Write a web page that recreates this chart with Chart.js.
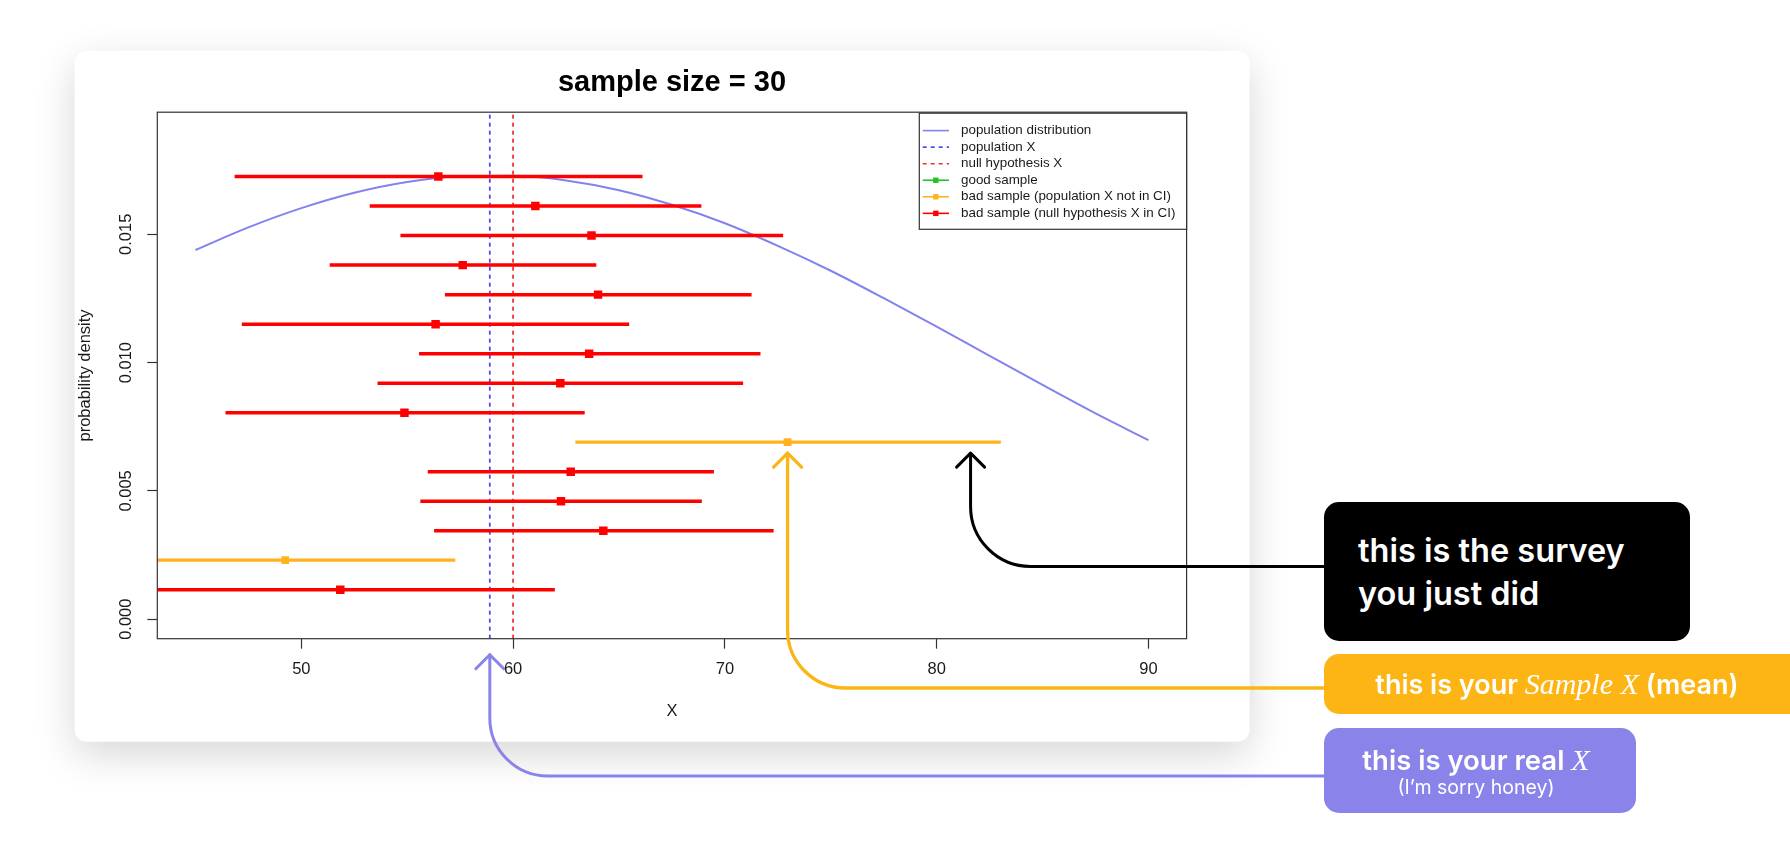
<!DOCTYPE html>
<html>
<head>
<meta charset="utf-8">
<script src="https://cdn.jsdelivr.net/npm/chart.js@4.4.1/dist/chart.umd.min.js"></script>
<style>
html,body{margin:0;padding:0;background:#fff;}
#wrap{position:relative;width:1790px;height:841px;overflow:hidden;background:#fff;}
#c{position:absolute;left:0;top:0;}
.callout{position:absolute;box-sizing:border-box;border-radius:15px;color:#fff;font-family:Inter,"Noto Sans",sans-serif;font-weight:600;white-space:nowrap;}
.serif{font-family:"Liberation Serif","DejaVu Serif",serif;font-style:italic;font-weight:400;line-height:1;}
</style>
</head>
<body>
<div id="wrap">
<canvas id="c" width="1790" height="841"></canvas>
<div class="callout" style="left:1324px;top:502px;width:366px;height:139px;background:#000;">
  <div style="position:absolute;left:34px;top:27px;font-size:32.5px;line-height:43px;">this is the survey<br>you just did</div>
</div>
<div class="callout" style="left:1324px;top:654px;width:466px;height:60px;background:#FDB515;border-radius:15px 0 0 15px;">
  <div style="position:absolute;left:0;right:0;top:15px;text-align:center;font-size:27px;line-height:32px;">this is your <span class="serif" style="font-size:30px;">Sample X</span> (mean)</div>
</div>
<div class="callout" style="left:1324px;top:728px;width:312px;height:85px;background:#8A84EA;">
  <div style="position:absolute;left:0;right:8px;top:16px;text-align:center;font-size:27.5px;line-height:32px;">this is your real <span class="serif" style="font-size:30px;">X</span></div>
  <div style="position:absolute;left:0;right:8px;top:48px;text-align:center;font-size:19.5px;line-height:22px;font-weight:400;">(I’m sorry honey)</div>
</div>
</div>
<script>
// ---- data ----
const titleText = 'sample size = 30';
const xTitle = 'X';
const yTitle = 'probability density';
const xLimits = [43.2, 91.8];
const yLimits = [-0.00076, 0.01976];
const xTicks = [50, 60, 70, 80, 90];
const yTicks = [0, 0.005, 0.010, 0.015];

const densityX = [45, 47.5, 50, 52.5, 55, 57.5, 60, 62.5, 65, 67.5, 70, 72.5, 75, 77.5, 80, 82.5, 85, 87.5, 90];
const densityY = [0.01439, 0.01527, 0.01602, 0.01662, 0.01704, 0.01726, 0.01728, 0.01710, 0.01672, 0.01615,
                  0.01543, 0.01455, 0.01358, 0.01251, 0.01140, 0.01026, 0.00913, 0.00802, 0.00698];

const populationMean = 58.9;
const nullHypothesisMean = 60;

// samples from bottom to top
const sampleY    = [0.00115, 0.0023, 0.00345, 0.0046, 0.00575, 0.0069, 0.00805, 0.0092, 0.01035, 0.0115, 0.01265, 0.0138, 0.01495, 0.0161, 0.01725];
const sampleLow  = [41.71, 41.21, 56.27, 55.62, 55.97, 62.94, 46.42, 53.60, 55.56, 47.19, 56.78, 51.34, 54.68, 53.23, 46.85];
const sampleMean = [51.84, 49.24, 64.26, 62.26, 62.72, 72.96, 54.87, 62.23, 63.59, 56.34, 64.01, 57.62, 63.70, 61.05, 56.47];
const sampleHigh = [61.97, 57.27, 72.30, 68.91, 69.48, 83.03, 63.38, 70.86, 71.68, 65.48, 71.26, 63.93, 72.75, 68.89, 66.11];
const sampleKind = ['null', 'pop', 'null', 'null', 'null', 'pop', 'null', 'null', 'null', 'null', 'null', 'null', 'null', 'null', 'null'];

const surveyIndex = 5;       // the sample the callouts talk about
const surveyPointerX = 81.6; // where the black callout arrow points on that interval

const legendLabels = [
  'population distribution',
  'population X',
  'null hypothesis X',
  'good sample',
  'bad sample (population X not in CI)',
  'bad sample (null hypothesis X in CI)'
];

// ---- styles ----
const COL_DENS = '#8383ee';
const COL_POP = '#4b4bf2';
const COL_NULL = '#f23030';
const COL_GOOD = '#22c322';
const COL_ORANGE = '#ffb21e';
const COL_RED = '#ff0000';

function segments(kind) {
  const d = [];
  sampleY.forEach((y, i) => {
    if (sampleKind[i] !== kind) return;
    d.push({x: sampleLow[i], y: y}, {x: sampleHigh[i], y: y}, {x: sampleHigh[i], y: null});
  });
  return d;
}
function means(kind) {
  const d = [];
  sampleY.forEach((y, i) => { if (sampleKind[i] === kind) d.push({x: sampleMean[i], y: y}); });
  return d;
}

const datasets = [
  {label: legendLabels[0], data: densityX.map((x, i) => ({x, y: densityY[i]})), borderColor: COL_DENS, borderWidth: 2,
   pointRadius: 0, cubicInterpolationMode: 'monotone', order: 5, clip: 0},
  {label: legendLabels[1], data: [{x: populationMean, y: yLimits[0]}, {x: populationMean, y: yLimits[1]}],
   borderColor: COL_POP, borderWidth: 1.8, borderDash: [4, 4], pointRadius: 0, order: 4, clip: 0},
  {label: legendLabels[2], data: [{x: nullHypothesisMean, y: yLimits[0]}, {x: nullHypothesisMean, y: yLimits[1]}],
   borderColor: COL_NULL, borderWidth: 1.8, borderDash: [4, 4], pointRadius: 0, order: 4, clip: 0},
  {label: legendLabels[3], data: [], borderColor: COL_GOOD, backgroundColor: COL_GOOD, borderWidth: 1.5, pointRadius: 0, order: 3},
  {label: legendLabels[4], data: segments('pop'), borderColor: COL_ORANGE, backgroundColor: COL_ORANGE, borderWidth: 3.3,
   pointRadius: 0, spanGaps: false, order: 2, clip: 0},
  {label: legendLabels[5], data: segments('null'), borderColor: COL_RED, backgroundColor: COL_RED, borderWidth: 3.5,
   pointRadius: 0, spanGaps: false, order: 2, clip: 0},
  {label: 'pop means', data: means('pop'), showLine: false, pointStyle: 'rect', pointRadius: 5.5,
   backgroundColor: COL_ORANGE, borderWidth: 0, order: 1},
  {label: 'null means', data: means('null'), showLine: false, pointStyle: 'rect', pointRadius: 6,
   backgroundColor: COL_RED, borderWidth: 0, order: 1}
];

const legendSpec = [
  {ds: 0}, {ds: 1}, {ds: 2}, {ds: 3, marker: true}, {ds: 4, marker: true}, {ds: 5, marker: true}
];

const FONT = '"Liberation Sans", Arial, sans-serif';

const decor = {
  id: 'decor',
  beforeDraw(chart) {
    const ctx = chart.ctx;
    ctx.save();
    ctx.fillStyle = '#ffffff';
    ctx.fillRect(0, 0, chart.width, chart.height);
    // card
    ctx.shadowColor = 'rgba(0,0,0,0.16)';
    ctx.shadowBlur = 40;
    ctx.shadowOffsetY = 13;
    ctx.fillStyle = '#ffffff';
    ctx.beginPath();
    ctx.roundRect(74.6, 50.7, 1175, 691, 12);
    ctx.fill();
    ctx.restore();
  },
  afterDatasetsDraw(chart) {
    const ctx = chart.ctx, a = chart.chartArea;
    ctx.save();
    // plot box
    ctx.strokeStyle = '#333';
    ctx.lineWidth = 1.2;
    ctx.strokeRect(a.left, a.top, a.right - a.left, a.bottom - a.top);
    // y tick labels (rotated like R)
    const ys = chart.scales.y;
    ctx.fillStyle = '#1a1a1a';
    ctx.font = '16.5px ' + FONT;
    ys.ticks.forEach(t => {
      const py = ys.getPixelForValue(t.value);
      ctx.save();
      ctx.translate(ys.right - 31, py);
      ctx.rotate(-Math.PI / 2);
      ctx.textAlign = 'center';
      ctx.textBaseline = 'middle';
      ctx.fillText(t.label, 0, 0);
      ctx.restore();
    });
    // legend (top right, R style)
    const lx0 = 919.3, lx1 = a.right, ly0 = a.top + 1, ly1 = 229.3;
    ctx.fillStyle = '#fff';
    ctx.fillRect(lx0, ly0, lx1 - lx0, ly1 - ly0);
    ctx.strokeStyle = '#333';
    ctx.lineWidth = 1.2;
    ctx.strokeRect(lx0, ly0, lx1 - lx0, ly1 - ly0);
    ctx.font = '13.4px ' + FONT;
    ctx.textBaseline = 'middle';
    ctx.textAlign = 'left';
    legendSpec.forEach((s, i) => {
      const ds = chart.data.datasets[s.ds];
      const y = 130.6 + i * 16.55;
      ctx.save();
      ctx.strokeStyle = ds.borderColor;
      ctx.lineWidth = 1.6;
      if (ds.borderDash) ctx.setLineDash(ds.borderDash);
      ctx.beginPath();
      ctx.moveTo(lx0 + 3.4, y);
      ctx.lineTo(lx0 + 29.7, y);
      ctx.stroke();
      ctx.restore();
      if (s.marker) {
        ctx.fillStyle = ds.borderColor;
        ctx.fillRect(lx0 + 16.5 - 2.7, y - 2.7, 5.4, 5.4);
      }
      ctx.fillStyle = '#1a1a1a';
      ctx.fillText(ds.label, lx0 + 41.7, y);
    });
    ctx.restore();
  },
  afterDraw(chart) {
    const ctx = chart.ctx, a = chart.chartArea;
    const xs = chart.scales.x, ys = chart.scales.y;
    function arrow(color, width, startX, startY, tipX, tipY, r) {
      ctx.save();
      ctx.strokeStyle = color;
      ctx.lineWidth = width;
      ctx.lineJoin = 'round';
      ctx.lineCap = 'round';
      ctx.beginPath();
      ctx.moveTo(startX, startY);
      ctx.lineTo(tipX + r, startY);
      ctx.arcTo(tipX, startY, tipX, startY - r, r);
      ctx.lineTo(tipX, tipY);
      ctx.stroke();
      ctx.beginPath();
      ctx.moveTo(tipX - 14, tipY + 14);
      ctx.lineTo(tipX, tipY);
      ctx.lineTo(tipX + 14, tipY + 14);
      ctx.stroke();
      ctx.restore();
    }
    const surveyY = ys.getPixelForValue(sampleY[surveyIndex]) + 11;
    arrow('#000000', 3, 1326, 566.5, xs.getPixelForValue(surveyPointerX), surveyY, 60);
    arrow('#FDB515', 3.3, 1326, 688, xs.getPixelForValue(sampleMean[surveyIndex]), surveyY, 58);
    arrow('#8A84EA', 3, 1326, 776, xs.getPixelForValue(populationMean), a.bottom + 16, 58);
  }
};

Chart.defaults.font.family = FONT;

new Chart(document.getElementById('c'), {
  type: 'line',
  data: {datasets},
  options: {
    responsive: false,
    animation: false,
    events: [],
    devicePixelRatio: 1,
    layout: {padding: {left: 0, top: 0, right: 603.4, bottom: 0}},
    plugins: {
      legend: {display: false},
      tooltip: {enabled: false},
      title: {
        display: true, text: titleText, fullSize: false, color: '#000',
        font: {family: FONT, size: 29, weight: 'bold', lineHeight: 1.2},
        padding: {top: 66, bottom: 11.4}
      }
    },
    scales: {
      x: {
        type: 'linear', min: xLimits[0], max: xLimits[1],
        afterBuildTicks: s => { s.ticks = xTicks.map(v => ({value: v})); },
        afterFit: s => { s.height = 202.3; },
        ticks: {color: '#1a1a1a', font: {size: 16.5, family: FONT}, padding: 11, callback: v => String(v), maxRotation: 0},
        grid: {display: true, drawOnChartArea: false, drawTicks: true, tickLength: 10, tickColor: '#333', tickWidth: 1.2},
        border: {display: false},
        title: {display: true, text: xTitle, color: '#1a1a1a', font: {size: 16.5, family: FONT, lineHeight: 1.2}, padding: {top: 0, bottom: 120}}
      },
      y: {
        type: 'linear', min: yLimits[0], max: yLimits[1],
        afterBuildTicks: s => { s.ticks = yTicks.map(v => ({value: v})); },
        afterFit: s => { s.width = 157.3; },
        ticks: {display: false, callback: v => v.toFixed(3)},
        grid: {display: true, drawOnChartArea: false, drawTicks: true, tickLength: 10, tickColor: '#333', tickWidth: 1.2},
        border: {display: false},
        title: {display: true, text: yTitle, color: '#1a1a1a', font: {size: 16.5, family: FONT, lineHeight: 1.2}, padding: {top: 76, bottom: 0}}
      }
    }
  },
  plugins: [decor]
});
</script>
</body>
</html>
